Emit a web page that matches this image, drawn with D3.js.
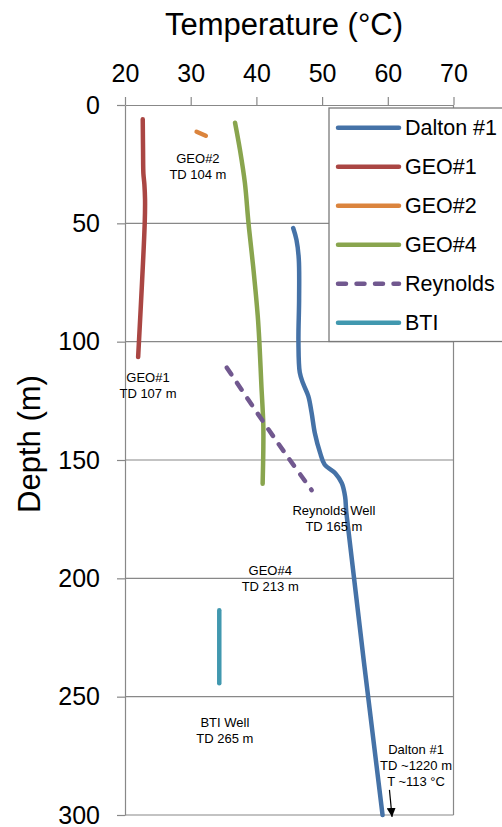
<!DOCTYPE html>
<html>
<head>
<meta charset="utf-8">
<script src="https://cdn.jsdelivr.net/npm/d3@7"></script>
<style>
  html, body { margin: 0; padding: 0; background: #fff; }
  svg { display: block; font-family: "Liberation Sans", Arial, sans-serif; }
</style>
</head>
<body>
<svg id="chart" width="502" height="827"></svg>
<script>
// ---------------- data (temperature °C, depth m) ----------------
const tempTicks = [20, 30, 40, 50, 60, 70];
const depthTicks = [0, 50, 100, 150, 200, 250, 300];

const seriesNames = ["Dalton #1", "GEO#1", "GEO#2", "GEO#4", "Reynolds", "BTI"];
const seriesColors = ["#4572A7", "#AA4643", "#DB843D", "#89A54E", "#71588F", "#4198AF"];

const dalton = [[45.6, 52], [46.1, 57], [46.45, 65], [46.5, 82], [46.4, 100], [46.6, 113],
  [47.1, 117.6], [47.9, 123], [48.4, 130], [48.9, 138.7], [49.7, 147], [50.4, 152],
  [52.0, 155.6], [53.0, 159.8], [53.5, 165.5], [53.7, 172.5], [59.2, 300]];
const geo1 = [[22.7, 6], [22.75, 20], [22.8, 29], [22.95, 33.5], [23.05, 40], [23.0, 50], [22.0, 106.5]];
const geo2 = [[30.9, 11.3], [32.3, 13]];
const geo4 = [[36.75, 7.5], [37.5, 19], [38.25, 33], [38.8, 50], [39.5, 68], [40.2, 89],
  [40.45, 100], [40.75, 118], [41.05, 135], [41.05, 146], [40.95, 160]];
const reynolds = [[35.5, 111], [41.2, 134.5], [45.1, 150], [48.4, 162.7]];
const bti = [[34.35, 213.5], [34.35, 244.3]];

const seriesData = [dalton, geo1, geo2, geo4, reynolds, bti];

// annotation labels: [temperature, depth of first baseline, lines]
const annotations = [
  { t: 31.1, d: 24.7, lines: ["GEO#2", "TD 104 m"] },
  { t: 23.5, d: 117.2, lines: ["GEO#1", "TD 107 m"] },
  { t: 51.8, d: 173.2, lines: ["Reynolds Well", "TD 165 m"] },
  { t: 42.1, d: 198.6, lines: ["GEO#4", "TD 213 m"] },
  { t: 35.2, d: 262.9, lines: ["BTI Well", "TD 265 m"] },
  { t: 64.3, d: 274.4, lines: ["Dalton #1", "TD ~1220 m", "T ~113 °C"] }
];
const arrowFrom = [60.25, 289.4];
const arrowTo = [60.65, 300.8];

// ---------------- drawing ----------------
const svg = d3.select("#chart");
const x = d3.scaleLinear().domain([20, 70]).range([125, 453.5]);
const y = d3.scaleLinear().domain([0, 300]).range([105, 815]);
const gridColor = "#888888";

// gridlines
svg.append("g").selectAll("line").data(depthTicks.filter(d => d > 0)).join("line")
  .attr("x1", x(20)).attr("x2", x(70))
  .attr("y1", d => y(d)).attr("y2", d => y(d))
  .attr("stroke", gridColor).attr("stroke-width", 1.2);

// right border
svg.append("line").attr("x1", x(70)).attr("x2", x(70)).attr("y1", y(0)).attr("y2", y(300))
  .attr("stroke", gridColor).attr("stroke-width", 1.2);

// axes
const xAxis = svg.append("g").attr("transform", `translate(0,${y(0)})`)
  .call(d3.axisTop(x).tickValues(tempTicks).tickSize(8).tickPadding(15).tickSizeOuter(0));
const yAxis = svg.append("g").attr("transform", `translate(${x(20)},0)`)
  .call(d3.axisLeft(y).tickValues(depthTicks).tickSize(8).tickPadding(17).tickSizeOuter(0));
[xAxis, yAxis].forEach(g => {
  g.select(".domain").attr("stroke", gridColor).attr("stroke-width", 1.2);
  g.selectAll(".tick line").attr("stroke", gridColor).attr("stroke-width", 1.2);
  g.selectAll(".tick text").attr("fill", "#000").style("font-size", "25px")
    .style("font-family", "'Liberation Sans', Arial, sans-serif");
});

// axis titles
svg.append("text").attr("x", 284).attr("y", 35).attr("text-anchor", "middle")
  .style("font-size", "31px").attr("fill", "#000").text("Temperature (°C)");
svg.append("text").attr("transform", "translate(40,444) rotate(-90)").attr("text-anchor", "middle")
  .style("font-size", "31px").attr("fill", "#000").text("Depth (m)");

// series lines
const line = d3.line().x(p => x(p[0])).y(p => y(p[1])).curve(d3.curveCatmullRom.alpha(0.5));
seriesData.forEach((data, i) => {
  svg.append("path").datum(data)
    .attr("d", line)
    .attr("fill", "none")
    .attr("stroke", seriesColors[i])
    .attr("stroke-width", 4.5)
    .attr("stroke-linecap", "round")
    .attr("stroke-linejoin", "round")
    .attr("stroke-dasharray", seriesNames[i] === "Reynolds" ? "8,10.5" : null);
});

// annotations
annotations.forEach(a => {
  const t = svg.append("text").attr("text-anchor", "middle").style("font-size", "13px").attr("fill", "#000");
  a.lines.forEach((s, k) => {
    t.append("tspan").attr("x", x(a.t)).attr("y", y(a.d) + k * 16).text(s);
  });
});

// arrow
svg.append("defs").append("marker").attr("id", "arrowhead")
  .attr("viewBox", "0 0 10 10").attr("refX", 10).attr("refY", 5)
  .attr("markerWidth", 9).attr("markerHeight", 9).attr("markerUnits", "userSpaceOnUse")
  .attr("orient", "auto")
  .append("path").attr("d", "M0,0 L10,5 L0,10 z").attr("fill", "#000");
svg.append("line")
  .attr("x1", x(arrowFrom[0])).attr("y1", y(arrowFrom[1]))
  .attr("x2", x(arrowTo[0])).attr("y2", y(arrowTo[1]))
  .attr("stroke", "#000").attr("stroke-width", 1.2)
  .attr("marker-end", "url(#arrowhead)");

// legend
const legend = svg.append("g");
legend.append("rect").attr("x", 329).attr("y", 108).attr("width", 200).attr("height", 233.5)
  .attr("fill", "#fff").attr("stroke", "#7a7a7a").attr("stroke-width", 1.3);
seriesNames.forEach((name, i) => {
  const ly = 127.7 + i * 39;
  legend.append("line").attr("x1", 338).attr("x2", 399).attr("y1", ly).attr("y2", ly)
    .attr("stroke", seriesColors[i]).attr("stroke-width", 4.5).attr("stroke-linecap", "round")
    .attr("stroke-dasharray", name === "Reynolds" ? "8,10.5" : null);
  legend.append("text").attr("x", 405).attr("y", ly).attr("dy", "0.35em")
    .style("font-size", "21.5px").attr("fill", "#000").text(name);
});
</script>
</body>
</html>
